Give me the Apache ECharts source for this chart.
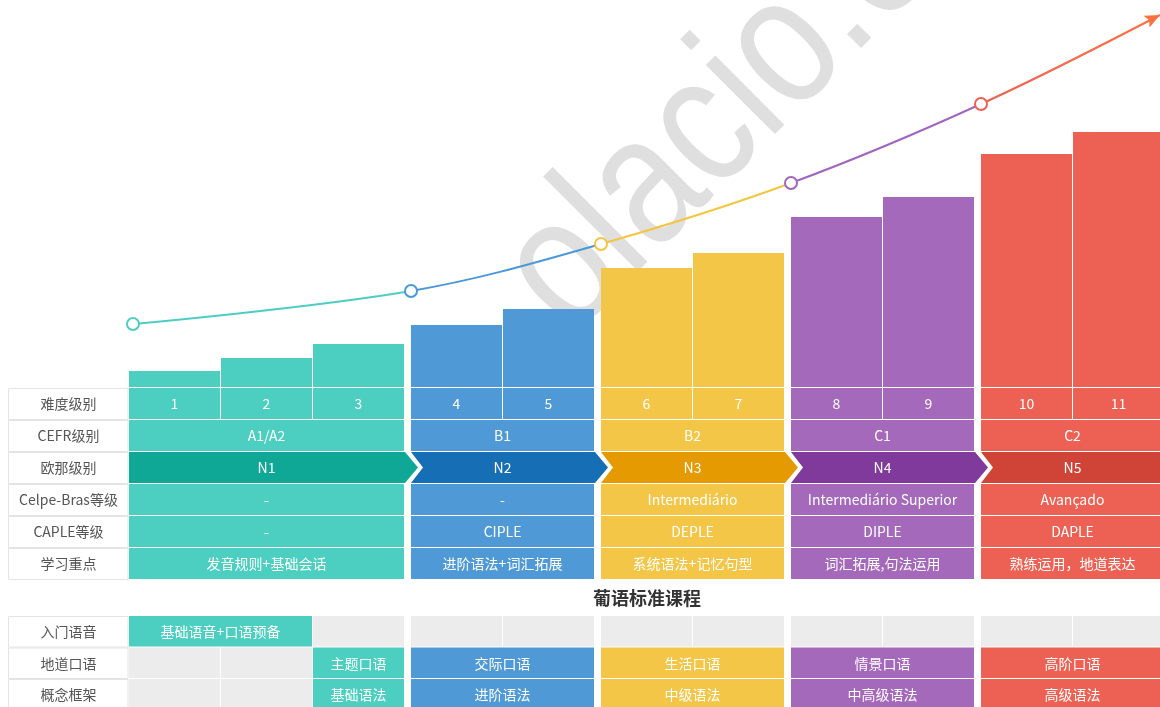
<!DOCTYPE html>
<html>
<head>
<meta charset="utf-8">
<title>葡语课程等级对照</title>
<script src="https://cdn.jsdelivr.net/npm/echarts@6/dist/echarts.min.js"></script>
<style>
  html, body { margin: 0; padding: 0; background: #fff; }
  #chart { width: 1160px; height: 707px; }
</style>
</head>
<body>
<div id="chart"></div>
<script>
// 难度级别 1-11 及其所属阶段（0-4）
const levels = ['1', '2', '3', '4', '5', '6', '7', '8', '9', '10', '11']
const levelStage = [0, 0, 0, 1, 1, 2, 2, 3, 3, 4, 4]
// 柱子高度
const barValues = [16, 29, 43, 62, 78, 119, 134, 170, 190, 233, 255]
// 曲线：每个阶段起点的高度，最后一个是箭头末端
const curveValues = [63, 96, 143, 204, 283, 372]

const rowNames = ['难度级别', 'CEFR级别', '欧那级别', 'Celpe-Bras等级', 'CAPLE等级', '学习重点']
const cefr = ['A1/A2', 'B1', 'B2', 'C1', 'C2']
const olaLevels = ['N1', 'N2', 'N3', 'N4', 'N5']
const celpeBras = ['-', '-', 'Intermediário', 'Intermediário Superior', 'Avançado']
const caple = ['-', 'CIPLE', 'DEPLE', 'DIPLE', 'DAPLE']
const focus = ['发音规则+基础会话', '进阶语法+词汇拓展', '系统语法+记忆句型', '词汇拓展,句法运用', '熟练运用，地道表达']

const courseTitle = '葡语标准课程'
const courseRows = ['入门语音', '地道口语', '概念框架']
const introCourse = '基础语音+口语预备'
const introSpan = [0, 1]
const speakingCourses = ['主题口语', '交际口语', '生活口语', '情景口语', '高阶口语']
const grammarCourses = ['基础语法', '进阶语法', '中级语法', '中高级语法', '高级语法']
const courseFrom = [2, 3, 5, 7, 9]

// 颜色
const stageColors = ['#4ccfc0', '#4f9ad6', '#f3c648', '#a569bc', '#ec6154']
const stageDark = ['#0fa896', '#166fb5', '#e59a02', '#7f3a9b', '#d04437']
const lineColors = ['#4ecdc4', '#4a98da', '#f3c540', '#a066bf', '#ec6154']
const arrowColor = '#ff7040'
const GRAY = '#ececec'
const FONT = '"Noto Sans CJK SC", "Noto Sans", sans-serif'

// 布局：每列 92px，阶段之间多 6px 空隙
const COL = 92
const GAP = 6
const GAP_U = GAP / COL
const LEFT = 129
const LABEL_W = 121
const X_MAX = levels.length + 4 * GAP_U
const GRID_W = COL * X_MAX

function xLeft(i) { return i + levelStage[i] * GAP_U }
function xRight(i) { return xLeft(i) + 1 }
const stageFirst = [0, 1, 2, 3, 4].map(s => levelStage.indexOf(s))
const stageLast = [0, 1, 2, 3, 4].map(s => levelStage.lastIndexOf(s))

// 上表格的单元格
const upperCells = []
levels.forEach((t, i) => upperCells.push({ from: i, to: i, row: 0, text: t, fill: stageColors[levelStage[i]] }))
;[cefr, olaLevels, celpeBras, caple, focus].forEach((arr, r) => {
  arr.forEach((t, s) => {
    upperCells.push({
      from: stageFirst[s], to: stageLast[s], row: r + 1, text: t,
      fill: r === 1 ? stageDark[s] : stageColors[s],
      chevron: r === 1, notch: r === 1 && s > 0
    })
  })
})

// 下表格（课程）
const lowerCells = []
lowerCells.push({ from: introSpan[0], to: introSpan[1], row: 0, text: introCourse, fill: stageColors[0] })
for (let i = introSpan[1] + 1; i < levels.length; i++) lowerCells.push({ from: i, to: i, row: 0, text: '', fill: GRAY })
;[speakingCourses, grammarCourses].forEach((arr, k) => {
  for (let i = 0; i < courseFrom[0]; i++) lowerCells.push({ from: i, to: i, row: k + 1, text: '', fill: GRAY })
  arr.forEach((t, s) => lowerCells.push({ from: courseFrom[s], to: stageLast[s], row: k + 1, text: t, fill: stageColors[s] }))
})

function textEl(text, x, y, color, size, weight) {
  return {
    type: 'text',
    style: {
      text: text, x: x, y: y, fill: color,
      font: (weight || 'normal') + ' ' + size + 'px ' + FONT,
      align: 'center', verticalAlign: 'middle',
      textAlign: 'center', textVerticalAlign: 'middle'
    }
  }
}

function cellRenderer(cells) {
  return function (params, api) {
    const c = cells[params.dataIndex]
    const a = api.coord([api.value(0), api.value(2)])
    const b = api.coord([api.value(1), api.value(2)])
    const h = Math.abs(api.size([0, 1])[1])
    const x0 = a[0]
    const x1 = b[0] - 1
    const top = a[1] - h / 2
    const bottom = top + h - 1
    const mid = (top + bottom) / 2
    let shape
    if (c.chevron) {
      const pts = [[x0, top], [x1 + 1, top], [x1 + 14, mid], [x1 + 1, bottom], [x0, bottom]]
      if (c.notch) pts.push([x0 + 12, mid])
      shape = { type: 'polygon', shape: { points: pts }, style: { fill: c.fill } }
    } else {
      shape = { type: 'rect', shape: { x: x0, y: top, width: x1 - x0, height: bottom - top }, style: { fill: c.fill } }
    }
    const children = [shape]
    if (c.text) children.push(textEl(c.text, (x0 + x1) / 2, mid + 0.5, '#fff', 14))
    return { type: 'group', children: children }
  }
}

function labelRenderer(names) {
  return function (params, api) {
    const p = api.coord([0, api.value(1)])
    const h = Math.abs(api.size([0, 1])[1])
    const x0 = p[0] - LABEL_W
    const top = p[1] - h / 2
    return {
      type: 'group',
      children: [
        { type: 'rect', shape: { x: x0 + 0.5, y: top + 0.5, width: LABEL_W - 1.5, height: h - 1 }, style: { fill: '#fff', stroke: '#e4e4e4', lineWidth: 1 } },
        textEl(names[params.dataIndex], x0 + LABEL_W / 2, top + h / 2, '#555', 14)
      ]
    }
  }
}

// 曲线节点
const curvePoints = stageFirst.map((li, s) => [xLeft(li), curveValues[s]])
curvePoints[0][0] += 4 / COL
curvePoints.push([X_MAX - 5 / COL, curveValues[5]])
const xs = curvePoints.map(p => p[0])
const fr = x => (x - xs[0]) / (xs[xs.length - 1] - xs[0])
const stops = []
for (let s = 0; s < 4; s++) {
  stops.push({ offset: fr(xs[s]), color: lineColors[s] }, { offset: fr(xs[s + 1]), color: lineColors[s] })
}
stops.push({ offset: fr(xs[4]), color: lineColors[4] }, { offset: 1, color: arrowColor })

const chart = echarts.init(document.getElementById('chart'))
chart.setOption({
  animation: false,
  backgroundColor: '#fff',
  grid: [
    { left: LEFT, top: 15, width: GRID_W, height: 372, outerBoundsMode: 'none', containLabel: false },
    { left: LEFT, top: 388, width: GRID_W, height: 192, outerBoundsMode: 'none', containLabel: false },
    { left: LEFT, top: 616, width: GRID_W, height: 94.5, outerBoundsMode: 'none', containLabel: false }
  ],
  xAxis: [0, 1, 2].map(g => ({ type: 'value', gridIndex: g, min: 0, max: X_MAX, show: false })),
  yAxis: [
    { type: 'value', gridIndex: 0, min: 0, max: 372, show: false },
    { type: 'category', gridIndex: 1, data: rowNames, inverse: true, show: false },
    { type: 'category', gridIndex: 2, data: courseRows, inverse: true, show: false }
  ],
  graphic: [
    {
      // 背景水印
      type: 'text', z: 0, x: 535, y: 302, rotation: Math.PI / 4, scaleX: 0.82, silent: true,
      style: {
        text: 'olacio.com', fill: '#dfdfdf', font: '185px "Liberation Sans", sans-serif',
        align: 'left', verticalAlign: 'middle', textAlign: 'left', textVerticalAlign: 'middle'
      }
    },
    {
      type: 'text', z: 10, x: LEFT + GRID_W / 2, y: 598,
      style: {
        text: courseTitle, fill: '#333', font: 'bold 18px ' + FONT,
        align: 'center', verticalAlign: 'middle', textAlign: 'center', textVerticalAlign: 'middle'
      }
    }
  ],
  series: [
    {
      name: '难度',
      type: 'custom',
      xAxisIndex: 0,
      yAxisIndex: 0,
      z: 2,
      encode: { x: [0, 1], y: 2 },
      data: barValues.map((v, i) => [xLeft(i), xRight(i), v]),
      renderItem: function (params, api) {
        const a = api.coord([api.value(0), api.value(2)])
        const b = api.coord([api.value(1), 0])
        return {
          type: 'rect',
          shape: { x: a[0], y: a[1], width: b[0] - a[0] - 1, height: b[1] - a[1] },
          style: { fill: stageColors[levelStage[params.dataIndex]] }
        }
      }
    },
    {
      name: '曲线',
      type: 'line',
      xAxisIndex: 0,
      yAxisIndex: 0,
      z: 4,
      clip: false,
      smooth: 0.35,
      symbol: 'circle',
      symbolSize: 12,
      lineStyle: {
        width: 2,
        color: { type: 'linear', x: 0, y: 0, x2: 1, y2: 0, colorStops: stops, global: false }
      },
      itemStyle: { color: '#fff', borderWidth: 2 },
      data: curvePoints.map((p, i) => i < 5
        ? { value: p, itemStyle: { color: '#fff', borderColor: lineColors[i], borderWidth: 2 } }
        : { value: p, symbol: 'none' })
    },
    {
      name: '箭头',
      type: 'custom',
      xAxisIndex: 0,
      yAxisIndex: 0,
      z: 5,
      data: [curvePoints[curvePoints.length - 1]],
      renderItem: function (params, api) {
        const p = api.coord(curvePoints[curvePoints.length - 1])
        const q = api.coord(curvePoints[curvePoints.length - 2])
        const len = Math.hypot(p[0] - q[0], p[1] - q[1])
        const dx = (p[0] - q[0]) / len
        const dy = (p[1] - q[1]) / len
        const bx = p[0] - dx * 15
        const by = p[1] - dy * 15
        return {
          type: 'polygon',
          shape: { points: [[p[0], p[1]], [bx - dy * 6.5, by + dx * 6.5], [bx + dx * 3, by + dy * 3], [bx + dy * 6.5, by - dx * 6.5]] },
          style: { fill: arrowColor }
        }
      }
    },
    {
      name: '等级对照',
      type: 'custom',
      xAxisIndex: 1,
      yAxisIndex: 1,
      encode: { x: [0, 1], y: 2 },
      data: upperCells.map(c => [xLeft(c.from), xRight(c.to), c.row]),
      renderItem: cellRenderer(upperCells)
    },
    {
      name: '行名',
      type: 'custom',
      xAxisIndex: 1,
      yAxisIndex: 1,
      encode: { x: 0, y: 1 },
      data: rowNames.map((n, i) => [0, i]),
      renderItem: labelRenderer(rowNames)
    },
    {
      name: '课程',
      type: 'custom',
      xAxisIndex: 2,
      yAxisIndex: 2,
      encode: { x: [0, 1], y: 2 },
      data: lowerCells.map(c => [xLeft(c.from), xRight(c.to), c.row]),
      renderItem: cellRenderer(lowerCells)
    },
    {
      name: '课程行名',
      type: 'custom',
      xAxisIndex: 2,
      yAxisIndex: 2,
      encode: { x: 0, y: 1 },
      data: courseRows.map((n, i) => [0, i]),
      renderItem: labelRenderer(courseRows)
    }
  ]
})
</script>
</body>
</html>
